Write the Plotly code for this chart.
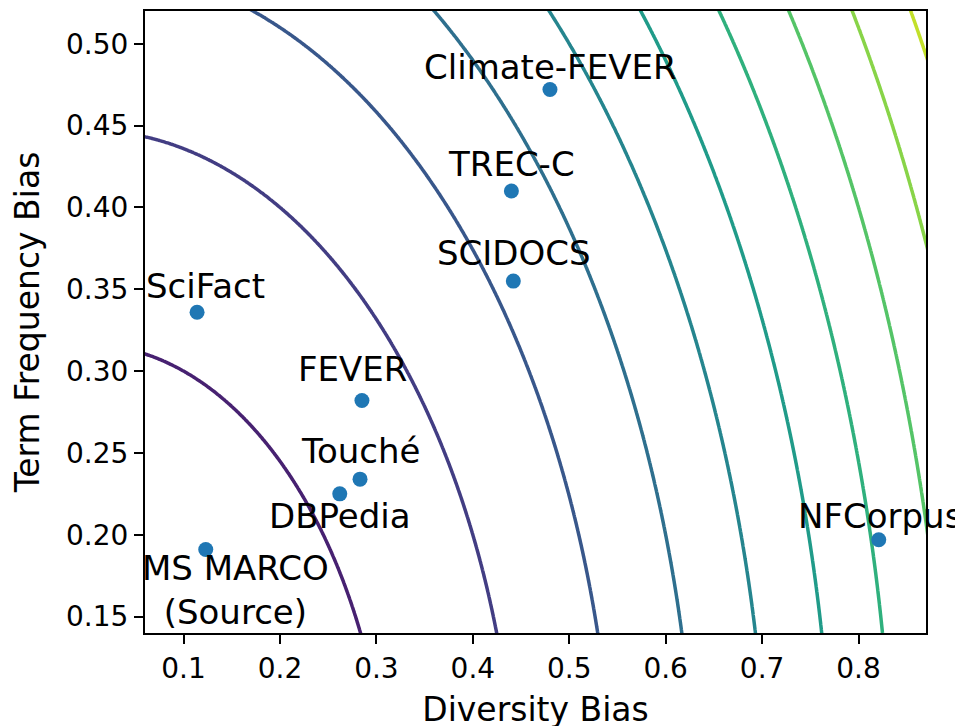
import numpy as np
import plotly.graph_objects as go

# ---- data ----
datasets = ["SciFact", "Climate-FEVER", "TREC-C", "SCIDOCS", "FEVER",
            "Touché", "DBPedia", "MS MARCO<br>(Source)", "NFCorpus"]
diversity_bias = [0.114, 0.480, 0.440, 0.442, 0.285, 0.283, 0.262, 0.123, 0.821]
term_freq_bias = [0.336, 0.472, 0.410, 0.355, 0.282, 0.234, 0.225, 0.191, 0.197]

# contour levels of (diversity^2 + term_freq^2); colour range spans 0.0 .. 1.1
level_start = 0.0
level_end = 1.1
level_step = 0.1

x_ticks = [0.1, 0.2, 0.3, 0.4, 0.5, 0.6, 0.7, 0.8]
x_ticklabels = ["0.1", "0.2", "0.3", "0.4", "0.5", "0.6", "0.7", "0.8"]
y_ticks = [0.15, 0.20, 0.25, 0.30, 0.35, 0.40, 0.45, 0.50]
y_ticklabels = ["0.15", "0.20", "0.25", "0.30", "0.35", "0.40", "0.45", "0.50"]

# ---- label offsets (pixels) ----
label_dx = [8, 1, 0, 1, -9, 1, 0, 30, 1]
label_dy = [26, 23, 27, 28, 32, 28, -22, -40, 24]

# ---- background field ----
gx = np.linspace(0.05, 0.88, 400)
gy = np.linspace(0.13, 0.53, 400)
GX, GY = np.meshgrid(gx, gy)
GZ = GX ** 2 + GY ** 2

FONT = "DejaVu Sans"

fig = go.Figure()
fig.add_trace(go.Contour(
    x=gx, y=gy, z=GZ,
    autocontour=False,
    contours=dict(start=level_start, end=level_end, size=level_step,
                  coloring="lines", showlabels=False),
    colorscale="Viridis",
    line=dict(width=3.5, smoothing=1.0),
    showscale=False,
    hoverinfo="skip",
))

fig.add_trace(go.Scatter(
    x=diversity_bias, y=term_freq_bias, mode="markers",
    marker=dict(color="#1f77b4", size=15, line=dict(width=0)),
    showlegend=False,
))

for name, xv, yv, dx, dy in zip(datasets, diversity_bias, term_freq_bias, label_dx, label_dy):
    fig.add_annotation(
        x=xv, y=yv, text=name, showarrow=False,
        xanchor="center", yanchor="middle",
        xshift=dx, yshift=dy,
        font=dict(family=FONT, size=34, color="black"),
    )

axis_common = dict(
    showgrid=False, zeroline=False,
    showline=True, linecolor="black", linewidth=2, mirror=True,
    ticks="outside", ticklen=9, tickwidth=2, tickcolor="black",
    tickfont=dict(family=FONT, size=28, color="black"),
    automargin=False,
)

# the page body adds an 8px offset, so margins compensate for it
fig.update_layout(
    width=963, height=726,
    margin=dict(l=137, r=45, t=3, b=101, autoexpand=False),
    plot_bgcolor="white", paper_bgcolor="white",
    showlegend=False,
    xaxis=dict(range=[0.06, 0.87], tickvals=x_ticks, ticktext=x_ticklabels,
               title=dict(text="Diversity Bias", font=dict(family=FONT, size=33, color="black"),
                          standoff=14),
               **axis_common),
    yaxis=dict(range=[0.14, 0.52], tickvals=y_ticks, ticktext=y_ticklabels,
               title=dict(text="Term Frequency Bias", font=dict(family=FONT, size=33, color="black"),
                          standoff=17),
               **axis_common),
)

fig.write_html("out.html")
